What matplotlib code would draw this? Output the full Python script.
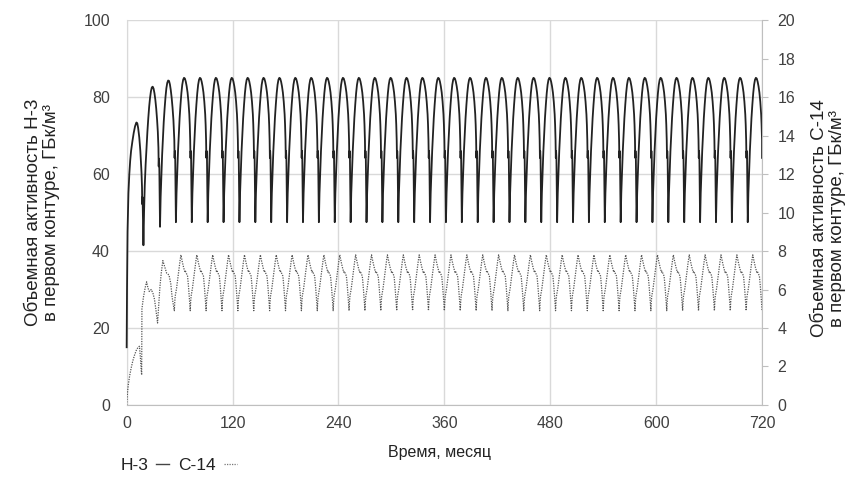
"""H-3 and C-14 volumetric activity in the primary circuit over 720 months."""
import matplotlib
matplotlib.use("Agg")
import matplotlib.pyplot as plt
import numpy as np
from matplotlib.lines import Line2D

plt.rcParams["font.family"] = ["Liberation Sans", "DejaVu Sans"]

# --- data ----------------------------------------------------------------
CYCLE_LEN = 18          # months per fuel cycle
N_CYCLES = 40           # 720 months
START_CYCLES = 3        # first three cycles are transient, given explicitly

# H-3, left axis (GBq/m3): first 54 months
H3_START_T = [0, 0.4, 1, 2, 3, 4, 5, 6.5, 8, 9.5, 11, 12, 13, 14.3, 15.5, 16.8,
              17.4, 17.6, 17.9, 18.2, 19.0,
              19.7, 20.5, 21.5, 22.5, 23.5, 24.5, 25.5, 26.5, 27.5, 28.5, 29.5,
              30.5, 31.5, 32.5, 33.5, 34.5, 35.3, 36.0, 36.3, 36.6, 37.0, 37.8,
              38.5, 39.4, 40.2, 41, 42, 43, 44, 45, 46, 47, 48, 49, 50, 51, 52,
              53, 53.5]
H3_START = [15, 30, 45, 55, 60, 63.5, 66, 68.5, 70.7, 72.4, 73.4, 73.2, 72, 69.5,
            66, 60.5, 56.5, 52.2, 54, 52, 41.5,
            50, 57, 62.5, 67, 71, 74.5, 77.5, 79.8, 81.5, 82.5, 82.7, 82.2, 81,
            79.3, 77, 74, 71, 66.8, 62, 64, 62, 46.3,
            54, 60, 65, 69, 73.5, 77, 80, 82.3, 83.7, 84.3, 84.2, 83.3, 81.8,
            79.8, 77.2, 74, 71.5]

# H-3 steady cycle (months after refuelling notch)
H3_CYCLE_TAU = [0.0, 0.3, 0.6, 1.0, 1.8, 2.5, 3.4, 4.2, 5.0, 6.0, 7.0, 8.0, 9.0,
                10.0, 11.0, 12.0, 13.0, 14.0, 15.0, 16.0, 17.0, 17.5]
H3_CYCLE = [68.8, 64.2, 66.0, 64.2, 47.5, 55.0, 61.0, 66.0, 70.0, 74.5, 78.0,
            81.0, 83.2, 84.5, 85.0, 84.8, 84.0, 82.8, 81.2, 78.8, 75.5, 72.8]
H3_END_T = [720.0, 720.0]
H3_END = [68.8, 64.2]

# C-14, right axis (GBq/m3): first 54 months
C14_START_T = [0, 0.5, 1, 2, 3.5, 5, 7, 9, 11, 13, 14.5, 15.5, 16.5, 17.0, 17.3,
               19, 21, 22.6, 24, 25.6, 27.9, 29.8, 31.5, 33, 35, 36.3, 37.7,
               39.3, 41, 43, 45.3, 48, 50, 51.5, 53]
C14_START = [0, 0.4, 0.7, 1.1, 1.55, 1.9, 2.3, 2.6, 2.85, 3.0, 3.05, 2.5, 1.8,
             1.56, 5.0, 5.6, 6.1, 6.4, 6.1, 5.9, 6.0, 5.8, 5.5, 5.0, 4.26, 5.2,
             6.15, 6.9, 7.5, 7.2, 6.85, 6.75, 6.3, 5.6, 5.2]

# C-14 steady cycle
C14_CYCLE_TAU = [0.0, 0.5, 1.0, 2.5, 4.0, 5.3, 6.5, 7.5, 9.0, 10.5, 12.0, 12.6,
                 14.0, 15.0, 16.0, 17.0, 17.6]
C14_CYCLE = [4.9, 5.35, 5.65, 6.05, 6.6, 7.1, 7.5, 7.8, 7.45, 7.15, 6.9, 6.95,
             6.8, 6.7, 6.2, 5.6, 5.2]
C14_END_T = [720.0]
C14_END = [4.9]

X_TICKS = [0, 120, 240, 360, 480, 600, 720]
Y_LEFT_TICKS = [0, 20, 40, 60, 80, 100]
Y_RIGHT_TICKS = [0, 2, 4, 6, 8, 10, 12, 14, 16, 18, 20]

LABEL_H3 = "Н-3"
LABEL_C14 = "С-14"
X_LABEL = "Время, месяц"
Y_LEFT_LABEL = "Объемная активность Н-3\nв первом контуре, ГБк/м³"
Y_RIGHT_LABEL = "Объемная активность С-14\nв первом контуре, ГБк/м³"


def build_series(start_t, start_v, tau, cyc, end_t, end_v):
    """Transient part, then the same read-off cycle for every later refuelling."""
    t = list(start_t)
    v = list(start_v)
    for k in range(START_CYCLES, N_CYCLES):
        t += [CYCLE_LEN * k + x for x in tau]
        v += list(cyc)
    return np.array(t + end_t), np.array(v + end_v)


h3_t, h3_v = build_series(H3_START_T, H3_START, H3_CYCLE_TAU, H3_CYCLE,
                          H3_END_T, H3_END)
c14_t, c14_v = build_series(C14_START_T, C14_START, C14_CYCLE_TAU, C14_CYCLE,
                            C14_END_T, C14_END)

# --- plot ------------------------------------------------------------------
fig = plt.figure(figsize=(8.64, 4.9), dpi=100)
ax = fig.add_axes([0.1466, 0.1735, 0.7354, 0.7855])
ax2 = ax.twinx()

grid_c = "#d9d9d9"
tick_c = "#404040"
h3_c = "#222222"
c14_c = "#555555"

ax.plot(h3_t, h3_v, color=h3_c, lw=1.3, zorder=3, clip_on=False)
ax2.plot(c14_t, c14_v, color=c14_c, lw=0.9, ls=(0, (1, 1)), zorder=3)

ax.set_xlim(0, 720)
ax.set_ylim(0, 100)
ax2.set_ylim(0, 20)
ax.set_xticks(X_TICKS)
ax.set_yticks(Y_LEFT_TICKS)
ax2.set_yticks(Y_RIGHT_TICKS)

ax.grid(True, color=grid_c, lw=1.0)
ax.set_axisbelow(True)

ax.spines["top"].set_visible(False)
ax.spines["right"].set_visible(False)
ax.spines["left"].set_color(grid_c)
ax.spines["bottom"].set_color("#bfbfbf")
for s in ("top", "left", "bottom"):
    ax2.spines[s].set_visible(False)
ax2.spines["right"].set_color("#bfbfbf")

ax.tick_params(axis="x", length=0, pad=8, labelsize=11.5, labelcolor=tick_c)
ax.tick_params(axis="y", length=0, pad=12, labelsize=11.5, labelcolor=tick_c)
ax2.tick_params(axis="y", length=4, width=0.8, color="#bfbfbf", pad=7,
                labelsize=11.5, labelcolor=tick_c)

ax.set_xlabel(X_LABEL, fontsize=11.5, color="#222222")
ax.xaxis.set_label_coords(0.493, -0.105)
ax.set_ylabel(Y_LEFT_LABEL, fontsize=13.5, color="#222222", linespacing=1.1)
ax.yaxis.set_label_coords(-0.105, 0.5)
ax2.set_ylabel(Y_RIGHT_LABEL, fontsize=13.5, color="#222222", linespacing=1.1)
ax2.yaxis.set_label_coords(1.077, 0.485)

handles = [Line2D([], [], color="#444444", lw=1.0),
           Line2D([], [], color="#777777", lw=0.9, ls=(0, (1, 1)))]
fig.legend(handles, [LABEL_H3, LABEL_C14], loc="center left",
           bbox_to_anchor=(0.121, 0.05), ncol=2, markerfirst=False,
           frameon=False, handlelength=0.75, handletextpad=0.45,
           columnspacing=0.55, fontsize=12.5, labelcolor="#222222")

fig.savefig("out.png", dpi=100)
plt.close(fig)
